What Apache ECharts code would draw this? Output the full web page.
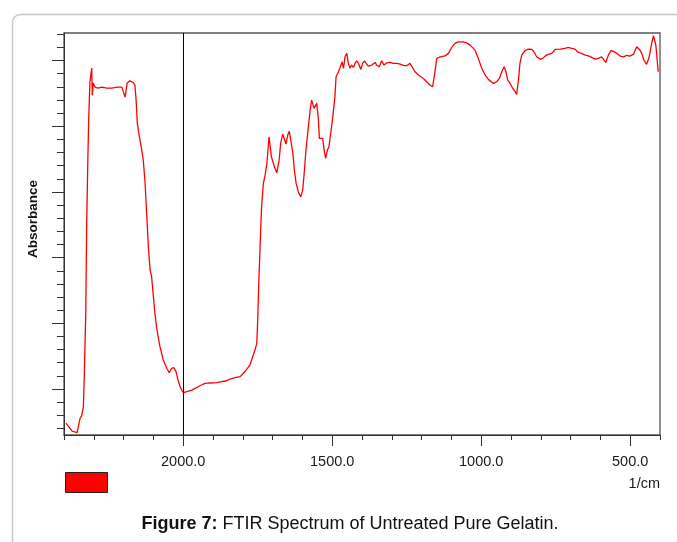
<!DOCTYPE html>
<html>
<head>
<meta charset="utf-8">
<title>FTIR Spectrum of Untreated Pure Gelatin</title>
<script src="https://cdn.jsdelivr.net/npm/echarts@6/dist/echarts.min.js"></script>
<style>
  html, body { margin: 0; padding: 0; background: #fff; }
  #chart { width: 677px; height: 542px; }
</style>
</head>
<body>
<div id="chart"></div>
<script>
// spectrum, wavenumber in 1/cm (high -> low)
const wavenumber = [
  2393, 2373, 2356, 2346, 2341, 2335, 2332, 2327, 2324, 2320, 2317, 2313, 2307, 2305, 2302, 2296,
  2286, 2273, 2257, 2240, 2219, 2206, 2201, 2195, 2188, 2179, 2167, 2162, 2158, 2154, 2147, 2139,
  2134, 2128, 2122, 2117, 2111, 2106, 2100, 2095, 2089, 2084, 2078, 2067, 2055, 2047, 2039, 2031,
  2024, 2016, 2008, 2000, 1988, 1971, 1966, 1944, 1927, 1910, 1888, 1871, 1854, 1843, 1826, 1809,
  1798, 1787, 1776, 1767, 1759, 1753, 1750, 1746, 1742, 1737, 1731, 1725, 1719, 1712, 1704, 1694,
  1686, 1678, 1673, 1666, 1662, 1655, 1649, 1644, 1639, 1632, 1627, 1621, 1614, 1606, 1599, 1594,
  1588, 1580, 1574, 1569, 1561, 1552, 1547, 1543, 1538, 1532, 1527, 1522, 1516, 1511, 1505, 1498,
  1491, 1487, 1479, 1474, 1467, 1462, 1457, 1451, 1446, 1440, 1435, 1429, 1423, 1418, 1412, 1404,
  1398, 1392, 1386, 1379, 1367, 1356, 1351, 1342, 1334, 1326, 1317, 1306, 1295, 1283, 1272, 1261,
  1250, 1239, 1233, 1222, 1211, 1194, 1183, 1172, 1163, 1157, 1149, 1138, 1121, 1110, 1099, 1088,
  1077, 1060, 1049, 1037, 1021, 1010, 998, 987, 976, 970, 959, 948, 939, 931, 923, 917,
  911, 903, 894, 886, 881, 875, 870, 864, 853, 842, 830, 823, 814, 802, 793, 786,
  775, 763, 752, 735, 719, 708, 696, 685, 677, 671, 663, 651, 640, 629, 618, 607,
  596, 590, 582, 573, 565, 557, 545, 534, 523, 512, 501, 489, 478, 469, 461, 454,
  445, 436, 428, 422, 419, 414, 408, 406
];
const absorbance = [
  0.241, 0.180, 0.168, 0.279, 0.295, 0.363, 0.591, 1.078, 1.733, 2.243, 2.562, 2.836, 2.943, 2.737, 2.829, 2.798,
  2.791, 2.798, 2.791, 2.791, 2.798, 2.798, 2.801, 2.722, 2.829, 2.846, 2.831, 2.814, 2.699, 2.524, 2.420, 2.319,
  2.243, 2.068, 1.811, 1.583, 1.406, 1.355, 1.202, 1.078, 0.964, 0.898, 0.822, 0.721, 0.658, 0.624, 0.658, 0.662,
  0.632, 0.556, 0.505, 0.472, 0.480, 0.492, 0.498, 0.525, 0.543, 0.546, 0.548, 0.556, 0.563, 0.576, 0.586, 0.594,
  0.620, 0.650, 0.683, 0.746, 0.797, 0.848, 1.025, 1.330, 1.583, 1.887, 2.065, 2.129, 2.218, 2.420, 2.268, 2.192,
  2.146, 2.243, 2.370, 2.441, 2.433, 2.365, 2.433, 2.463, 2.395, 2.294, 2.167, 2.065, 2.002, 1.963, 2.014, 2.142,
  2.319, 2.496, 2.623, 2.699, 2.636, 2.674, 2.572, 2.408, 2.395, 2.408, 2.319, 2.256, 2.319, 2.344, 2.446, 2.572,
  2.724, 2.877, 2.915, 2.943, 2.991, 2.941, 3.029, 3.055, 2.979, 2.941, 2.966, 2.948, 2.979, 2.998, 2.979, 2.933,
  2.979, 2.998, 2.979, 2.958, 2.966, 2.986, 2.966, 2.953, 2.998, 2.966, 2.983, 2.986, 2.979, 2.979, 2.973, 2.963,
  2.960, 2.979, 2.971, 2.915, 2.890, 2.864, 2.839, 2.814, 2.801, 2.890, 3.017, 3.029, 3.036, 3.055, 3.100, 3.131,
  3.143, 3.143, 3.135, 3.118, 3.080, 3.017, 2.941, 2.890, 2.857, 2.846, 2.826, 2.839, 2.864, 2.915, 2.953, 2.915,
  2.852, 2.826, 2.788, 2.763, 2.743, 2.852, 2.979, 3.042, 3.075, 3.087, 3.085, 3.067, 3.029, 3.011, 3.017, 3.034,
  3.047, 3.055, 3.085, 3.087, 3.093, 3.100, 3.093, 3.087, 3.067, 3.080, 3.055, 3.042, 3.036, 3.024, 3.011, 3.017,
  3.029, 3.017, 2.986, 3.042, 3.075, 3.072, 3.055, 3.034, 3.029, 3.039, 3.034, 3.049, 3.105, 3.085, 3.055, 3.004,
  2.971, 3.029, 3.131, 3.189, 3.194, 3.118, 2.966, 2.915
];

// tick positions
const xLabelTicks = [2000, 1500, 1000, 500];
const xMinorTicks = [2400, 2300, 2200, 2100, 2000, 1900, 1800, 1700, 1600, 1500, 1400,
  1300, 1200, 1100, 1000, 900, 800, 700, 600, 500, 400];
const yMajorTicks = [0.5, 1.0, 1.5, 2.0, 2.5, 3.0];
const yMinorTicks = [0.2, 0.3, 0.4, 0.5, 0.6, 0.7, 0.8, 0.9, 1.0, 1.1, 1.2, 1.3, 1.4, 1.5, 1.6,
  1.7, 1.8, 1.9, 2.0, 2.1, 2.2, 2.3, 2.4, 2.5, 2.6, 2.7, 2.8, 2.9, 3.0, 3.1, 3.2];

const font = 'Liberation Sans, Arial, Helvetica, sans-serif';
const spectrum = wavenumber.map((w, i) => [w, absorbance[i]]);
const axisColor = '#333';

let myChart = echarts.init(document.getElementById('chart'));

let option = {
  animation: false,
  grid: {
    left: 64, top: 33, width: 596, height: 402,
    show: true, borderColor: '#555', borderWidth: 1.3,
    backgroundColor: 'transparent',
    containLabel: false, outerBoundsMode: 'none'
  },
  xAxis: [
    {
      type: 'value', min: 400, max: 2400, inverse: true, position: 'bottom',
      axisLine: { show: true, lineStyle: { color: axisColor, width: 1 } },
      axisTick: { show: true, customValues: xLabelTicks, length: 11, lineStyle: { color: axisColor } },
      axisLabel: {
        show: true, customValues: xLabelTicks,
        formatter: v => v.toFixed(1),
        fontSize: 14.5, color: '#1a1a1a', margin: 19, fontFamily: font
      },
      splitLine: { show: false }
    },
    {
      // minor ticks every 100 1/cm
      type: 'value', min: 400, max: 2400, inverse: true, position: 'bottom',
      axisLine: { show: false },
      axisTick: { show: true, customValues: xMinorTicks, length: 5, lineStyle: { color: axisColor } },
      axisLabel: { show: false },
      splitLine: { show: false }
    }
  ],
  yAxis: [
    {
      type: 'value', min: 0.15, max: 3.21, position: 'left',
      axisLine: { show: true, lineStyle: { color: axisColor, width: 1 } },
      axisTick: { show: true, customValues: yMajorTicks, length: 12, lineStyle: { color: axisColor } },
      axisLabel: { show: false },
      splitLine: { show: false }
    },
    {
      type: 'value', min: 0.15, max: 3.21, position: 'left',
      axisLine: { show: false },
      axisTick: { show: true, customValues: yMinorTicks, length: 7, lineStyle: { color: axisColor } },
      axisLabel: { show: false },
      splitLine: { show: false }
    }
  ],
  series: [
    {
      type: 'line',
      xAxisIndex: 0, yAxisIndex: 0,
      data: spectrum,
      symbol: 'none',
      silent: true,
      lineStyle: { color: '#ff0000', width: 1.3 },
      markLine: {
        symbol: 'none', silent: true, animation: false,
        label: { show: false },
        lineStyle: { color: '#000', type: 'solid', width: 1 },
        data: [{ xAxis: 2000 }]
      }
    }
  ],
  graphic: [
    {
      type: 'rect', z: -10,
      shape: { x: 12.5, y: 14.5, width: 700, height: 600, r: 8 },
      style: { fill: 'none', stroke: '#c8c8c8', lineWidth: 1.5 }
    },
    {
      type: 'text', x: 33, y: 219, rotation: Math.PI / 2,
      style: {
        text: 'Absorbance', fontSize: 13.5, fontWeight: 'bold', fontFamily: font,
        fill: '#111', textAlign: 'center', textVerticalAlign: 'middle'
      }
    },
    {
      type: 'rect',
      shape: { x: 65.5, y: 472.5, width: 42, height: 20 },
      style: { fill: '#ff0000', stroke: '#222', lineWidth: 1 }
    },
    {
      type: 'text', x: 660, y: 484,
      style: {
        text: '1/cm', fontSize: 14.5, fontFamily: font, fill: '#1a1a1a',
        textAlign: 'right', textVerticalAlign: 'middle'
      }
    },
    {
      type: 'text', x: 350, y: 524,
      style: {
        text: '{b|Figure 7:} FTIR Spectrum of Untreated Pure Gelatin.',
        fontSize: 18, fontFamily: font, fill: '#111',
        textAlign: 'center', textVerticalAlign: 'middle',
        rich: { b: { fontSize: 18, fontWeight: 'bold', fontFamily: font, fill: '#111' } }
      }
    }
  ]
};

myChart.setOption(option);
</script>
</body>
</html>
